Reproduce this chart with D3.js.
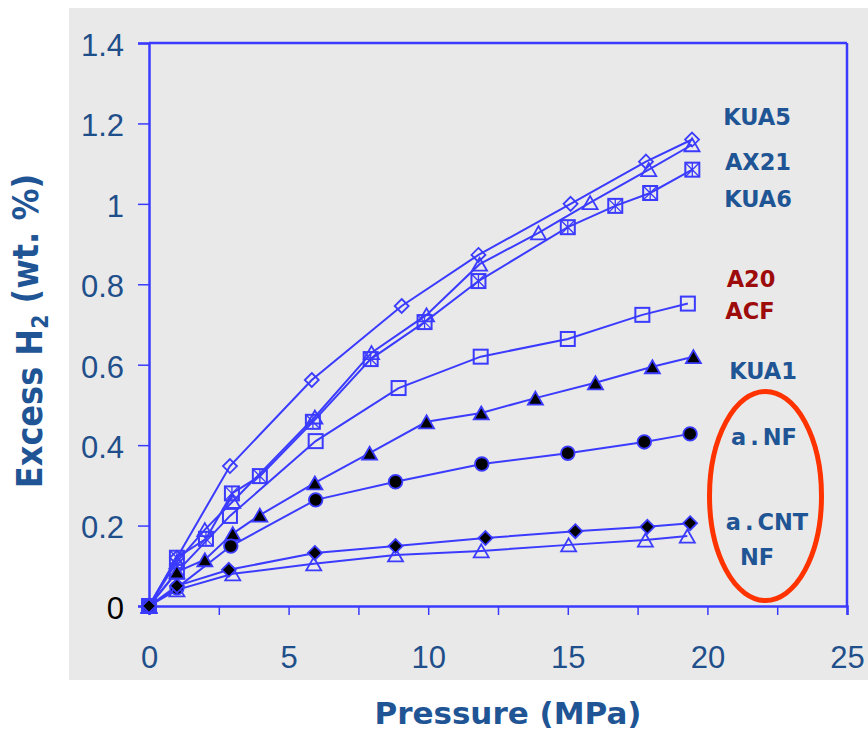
<!DOCTYPE html>
<html><head><meta charset="utf-8">
<script src="https://cdn.jsdelivr.net/npm/d3@7"></script>
<style>body{margin:0;background:#fff}svg{display:block}</style>
</head><body>
<svg id="c" width="868" height="731"></svg>
<script>
// ---------- data ----------
const xTicks = [0, 2.5, 5, 7.5, 10, 12.5, 15, 17.5, 20, 22.5, 25];
const yTicks = [0, 0.2, 0.4, 0.6, 0.8, 1, 1.2, 1.4];

const kua5 = [[0,0],[1,0.12],[2.9,0.348],[5.83,0.562],[9.05,0.746],[11.8,0.873],[15.1,1.0],[17.8,1.105],[19.45,1.16]];
const ax21 = [[0,0],[1,0.11],[2,0.19],[3,0.26],[5.94,0.47],[7.97,0.63],[9.94,0.724],[11.84,0.85],[13.95,0.928],[15.8,1.003],[17.9,1.085],[19.45,1.147]];
const kua6 = [[0,0],[1,0.12],[2.04,0.167],[2.97,0.28],[3.97,0.323],[5.87,0.458],[7.94,0.614],[9.87,0.706],[11.8,0.808],[15.0,0.942],[16.7,0.995],[17.95,1.027],[19.46,1.085]];
const a20acf = [[0,0],[1,0.085],[2.9,0.224],[5.97,0.41],[8.94,0.542],[11.88,0.62],[15.0,0.664],[17.67,0.724],[19.3,0.752]];
const kua1 = [[0,0],[1,0.085],[2,0.115],[3.0,0.18],[3.97,0.226],[5.94,0.306],[7.9,0.38],[9.94,0.458],[11.9,0.48],[13.84,0.517],[15.99,0.555],[18.03,0.595],[19.5,0.62]];
const aNF = [[0,0],[1,0.045],[2.93,0.149],[5.97,0.264],[8.83,0.309],[11.92,0.353],[15.0,0.38],[17.74,0.408],[19.38,0.428]];
const aCNT = [[0,0],[1,0.05],[2.86,0.09],[5.94,0.132],[8.83,0.149],[12.05,0.169],[15.27,0.186],[17.85,0.197],[19.38,0.206]];
const nf = [[0,0],[1,0.04],[3.0,0.08],[5.9,0.105],[8.83,0.127],[11.9,0.137],[15.03,0.152],[17.78,0.164],[19.28,0.174]];

const seriesList = [
  {data: kua5, marker: "diamondOpen"},
  {data: ax21, marker: "triangleOpen"},
  {data: kua6, marker: "squareCross"},
  {data: a20acf, marker: "squareOpen"},
  {data: kua1, marker: "triangleFilled"},
  {data: aNF, marker: "circleFilled"},
  {data: nf, marker: "triangleOpen"},
  {data: aCNT, marker: "diamondFilled"}
];

const labels = [
  {parts: ["KUA5"], x: 757, y: 117, color: "#1f5594"},
  {parts: ["AX21"], x: 758, y: 162, color: "#1f5594"},
  {parts: ["KUA6"], x: 758, y: 199, color: "#1f5594"},
  {parts: ["A20"], x: 751, y: 279, color: "#9e0b0b"},
  {parts: ["ACF"], x: 750, y: 311, color: "#9e0b0b"},
  {parts: ["KUA1"], x: 763, y: 371, color: "#1f5594"},
  {parts: ["a", ".", "NF"], x: 764, y: 437, color: "#1f5594"},
  {parts: ["a", ".", "CNT"], x: 767, y: 522, color: "#1f5594"},
  {parts: ["NF"], x: 757, y: 557, color: "#1f5594"}
];

// ---------- drawing ----------
const svg = d3.select("#c");
const blue = "#3b3bff";
const tickText = "#1f4f8a";
const titleBlue = "#1f5594";

svg.append("rect").attr("x", 69).attr("y", 8).attr("width", 799).attr("height", 672).attr("fill", "#e9e9e9");

const x = d3.scaleLinear().domain([0, 25]).range([149, 847]);
const y = d3.scaleLinear().domain([0, 1.4]).range([606, 43]);

// frame
svg.append("line").attr("x1", x(0)).attr("x2", x(25)).attr("y1", y(1.4)).attr("y2", y(1.4)).attr("stroke", blue).attr("stroke-width", 2.5);
svg.append("line").attr("x1", x(25)).attr("x2", x(25)).attr("y1", y(1.4)).attr("y2", y(0)).attr("stroke", blue).attr("stroke-width", 2.5);

// axes
const gy = svg.append("g").attr("transform", `translate(${x(0)},0)`)
  .call(d3.axisLeft(y).tickValues(yTicks).tickSize(11).tickPadding(14).tickFormat(d => d3.format("~g")(d)));
const gx = svg.append("g").attr("transform", `translate(0,${y(0)})`)
  .call(d3.axisBottom(x).tickValues(xTicks).tickSize(9).tickPadding(31).tickFormat(d => d % 5 === 0 ? d : ""));
[gy, gx].forEach(g => {
  g.select(".domain").attr("stroke", blue).attr("stroke-width", 2.5);
  g.selectAll(".tick line").attr("stroke", blue).attr("stroke-width", 1.5);
  g.selectAll(".tick text").attr("fill", tickText).style("font-family", "'Liberation Sans', Arial, sans-serif").style("font-size", "31px");
});
gy.selectAll(".tick text").attr("dy", "0.4em").attr("fill", d => d === 0 ? "#000" : tickText);

// series lines
const line = d3.line().x(d => x(d[0])).y(d => y(d[1]));
seriesList.forEach(s => {
  svg.append("path").attr("d", line(s.data)).attr("fill", "none").attr("stroke", blue).attr("stroke-width", 2);
});

// markers
function drawMarker(g, type) {
  const sw = 1.8;
  if (type === "diamondOpen" || type === "diamondFilled") {
    g.append("path").attr("d", "M0,-7L7,0L0,7L-7,0Z")
      .attr("fill", type === "diamondFilled" ? "#000" : "none").attr("stroke", blue).attr("stroke-width", sw);
  } else if (type === "triangleOpen" || type === "triangleFilled") {
    g.append("path").attr("d", "M0,-6.5L7.5,6.5L-7.5,6.5Z")
      .attr("fill", type === "triangleFilled" ? "#000" : "none").attr("stroke", blue).attr("stroke-width", sw);
  } else if (type === "squareOpen" || type === "squareCross") {
    g.append("rect").attr("x", -7).attr("y", -7).attr("width", 14).attr("height", 14)
      .attr("fill", "none").attr("stroke", blue).attr("stroke-width", 2);
    if (type === "squareCross") {
      g.append("path").attr("d", "M-7,-7L7,7M7,-7L-7,7M0,-7L0,7")
        .attr("stroke", blue).attr("stroke-width", 1.3);
    }
  } else if (type === "circleFilled") {
    g.append("circle").attr("r", 6.8).attr("fill", "#000").attr("stroke", blue).attr("stroke-width", sw);
  }
}
seriesList.forEach(s => {
  s.data.forEach(d => {
    const g = svg.append("g").attr("transform", `translate(${x(d[0])},${y(d[1])})`);
    drawMarker(g, s.marker);
  });
});

// series labels
labels.forEach(l => {
  const t = svg.append("text").attr("x", l.x).attr("y", l.y)
    .attr("text-anchor", "middle").attr("dominant-baseline", "central")
    .attr("fill", l.color).style("font-family", "'DejaVu Sans', Verdana, sans-serif")
    .style("font-weight", "bold").style("font-size", "22.5px");
  l.parts.forEach((p, i) => t.append("tspan").attr("dx", i === 0 ? 0 : 4).text(p));
});

// red ellipse
svg.append("ellipse").attr("cx", 765.5).attr("cy", 496).attr("rx", 56).attr("ry", 104.5)
  .attr("fill", "none").attr("stroke", "#ff3300").attr("stroke-width", 5);

// axis titles
svg.append("text").attr("x", 508).attr("y", 724).attr("text-anchor", "middle")
  .attr("fill", titleBlue).style("font-family", "'DejaVu Sans', Verdana, sans-serif")
  .style("font-weight", "bold").style("font-size", "31px").text("Pressure (MPa)");

const yt = svg.append("text").attr("transform", "translate(42,331) rotate(-90) scale(0.89,1)")
  .attr("text-anchor", "middle").attr("fill", titleBlue)
  .style("font-family", "'DejaVu Sans', Verdana, sans-serif").style("font-weight", "bold").style("font-size", "36px");
yt.append("tspan").text("Excess H");
yt.append("tspan").attr("dy", "0.28em").style("font-size", "23px").text("2");
yt.append("tspan").attr("dy", "-0.28em").text(" (wt. %)");
</script>
</body></html>
